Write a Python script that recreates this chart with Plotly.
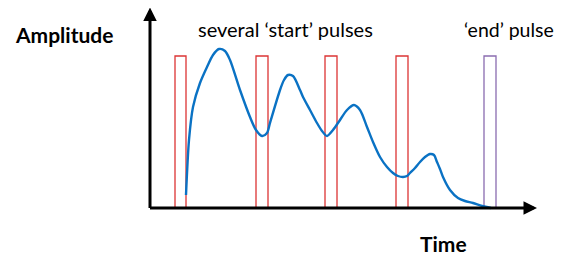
import plotly.graph_objects as go

# Data (time units, amplitude units; origin at the axes corner)
curve_t = [36, 39, 43, 50, 57, 63, 69, 75, 80, 90, 100, 106, 112, 117, 120, 130, 134, 138, 143,
           150, 153, 160, 167, 172, 177, 183, 190, 197, 204, 210, 217, 223, 230, 237, 243, 248, 253,
           257, 260, 265, 270, 275, 280, 284, 287, 290, 293, 300, 308, 315, 323, 332, 341]
curve_a = [13, 68, 101, 125, 141, 153, 159, 157, 148, 118, 91, 78, 72, 75, 85, 118, 128, 133, 132,
           118, 111, 98, 85, 77, 72, 78, 88, 98, 103, 98, 81, 66, 51, 41, 35, 32, 31,
           32, 35, 40, 46, 51, 54, 53, 46, 39, 31, 18, 10, 7, 5, 2, 0]

start_pulse_begin = [25, 106, 175, 246]
start_pulse_end = [36, 118, 187, 258]
end_pulse_begin = [334]
end_pulse_end = [346]
pulse_height = 152

y_axis_top = 200.5
x_axis_right = 387

labels = {
    "amplitude": ("Amplitude", -86.5, 174),
    "start": ("several ‘start’ pulses", 135.5, 179),
    "end": ("‘end’ pulse", 359, 179),
    "time": ("Time", 293, -35),
}

fig = go.Figure()

fig.add_trace(go.Scatter(
    x=curve_t, y=curve_a, mode="lines",
    line=dict(color="#0a72c4", width=2.4, shape="spline", smoothing=0.8),
    hoverinfo="skip", showlegend=False,
))

shapes = []
for b, e in zip(start_pulse_begin, start_pulse_end):
    shapes.append(dict(type="rect", xref="x", yref="y", x0=b, x1=e, y0=0, y1=pulse_height,
                       line=dict(color="#dc3434", width=1.3), fillcolor="rgba(0,0,0,0)", layer="below"))
for b, e in zip(end_pulse_begin, end_pulse_end):
    shapes.append(dict(type="rect", xref="x", yref="y", x0=b, x1=e, y0=0, y1=pulse_height,
                       line=dict(color="#8a6cb0", width=1.3), fillcolor="rgba(0,0,0,0)", layer="below"))

annotations = [
    dict(x=0, y=y_axis_top, ax=0, ay=-1.5, xref="x", yref="y", axref="x", ayref="y",
         text="", showarrow=True, arrowhead=2, arrowsize=0.9, arrowwidth=3, arrowcolor="black"),
    dict(x=x_axis_right, y=0, ax=-1.5, ay=0, xref="x", yref="y", axref="x", ayref="y",
         text="", showarrow=True, arrowhead=2, arrowsize=0.9, arrowwidth=3, arrowcolor="black"),
]
for key, (txt, x, y) in labels.items():
    bold = key in ("amplitude", "time")
    size = 21 if bold else (19.5 if key == "end" else 20)
    annotations.append(dict(
        x=x, y=y, xref="x", yref="y", showarrow=False,
        text=f"<b>{txt}</b>" if bold else txt,
        font=dict(family="Lato", size=size, color="black"),
        xanchor="center", yanchor="middle",
    ))

fig.update_layout(
    width=555, height=249,
    margin=dict(l=0, r=0, t=0, b=0),
    paper_bgcolor="white", plot_bgcolor="white",
    xaxis=dict(range=[-142, 413], visible=False, fixedrange=True),
    yaxis=dict(range=[-49, 200], visible=False, fixedrange=True),
    shapes=shapes, annotations=annotations,
)

fig.write_html("out.html")
